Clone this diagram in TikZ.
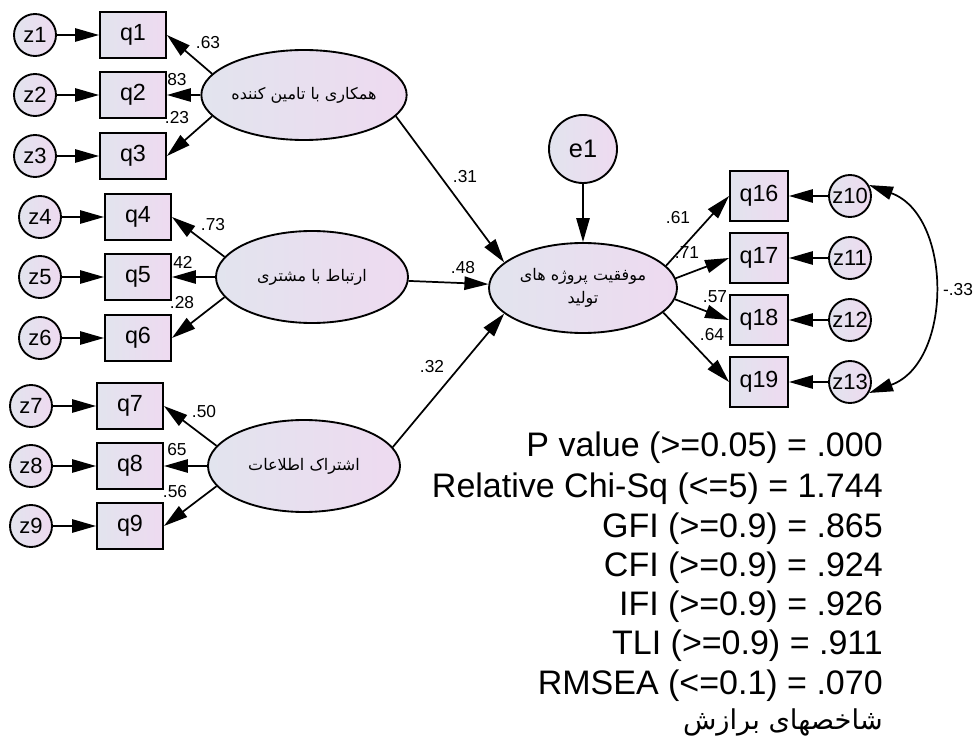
\documentclass[tikz,border=0pt]{standalone}
\usepackage{fontspec}
\setmainfont{Liberation Sans}
\newfontfamily\arabicfont[Script=Arabic]{DejaVu Sans}
\TeXXeTstate=1
\usetikzlibrary{arrows.meta,shapes.geometric}
\definecolor{nodeleft}{RGB}{226,228,238}
\definecolor{noderight}{RGB}{238,218,240}
\begin{document}
\begin{tikzpicture}[x=0.75pt,y=-0.75pt,
    obs/.style={draw,line width=1.4pt,minimum width=49.5pt,minimum height=34pt,inner sep=0pt,
      left color=nodeleft,right color=noderight,font=\fontsize{17.5}{20}\selectfont},
    obsr/.style={obs,minimum width=43.5pt,minimum height=37.5pt},
    err/.style={circle,draw,line width=1.4pt,minimum size=31.5pt,inner sep=0pt,
      left color=nodeleft,right color=noderight,font=\fontsize{16.5}{19}\selectfont},
    lat/.style={ellipse,draw,line width=1.4pt,minimum width=141pt,minimum height=67.5pt,inner sep=0pt,
      left color=nodeleft,right color=noderight,align=center,font=\arabicfont\fontsize{12}{17}\selectfont},
    arr/.style={-{Triangle[length=18pt,width=10pt]},line width=1.3pt},
    dblarr/.style={{Triangle[length=18pt,width=10pt]}-{Triangle[length=18pt,width=10pt]},line width=1.3pt},
    coef/.style={inner sep=0pt,font=\fontsize{13}{15}\selectfont},
    fitline/.style={anchor=base east,inner sep=0pt,font=\fontsize{25.5}{29}\selectfont}]
  \fill[white] (0,0) rectangle (975,738);
  \useasboundingbox (0,0) rectangle (975,738);
  % first construct
  \node[err] (z1) at (35,35) {z1};
  \node[err] (z2) at (35,95) {z2};
  \node[err] (z3) at (35,156) {z3};
  \node[obs] (q1) at (133,35) {q1};
  \node[obs] (q2) at (133,95) {q2};
  \node[obs] (q3) at (133,156) {q3};
  \node[lat] (F1) at (304,95) {\beginR همکاری با تامین کننده\endR};
  % second construct
  \node[err] (z4) at (40,217) {z4};
  \node[err] (z5) at (40,277) {z5};
  \node[err] (z6) at (40,338) {z6};
  \node[obs] (q4) at (138,217) {q4};
  \node[obs] (q5) at (138,277) {q5};
  \node[obs] (q6) at (138,338) {q6};
  \node[lat,minimum width=144pt,minimum height=69pt] (F2) at (312,277) {\beginR ارتباط با مشتری\endR};
  % third construct
  \node[err] (z7) at (31,406) {z7};
  \node[err] (z8) at (31,466) {z8};
  \node[err] (z9) at (31,526) {z9};
  \node[obs] (q7) at (130,406) {q7};
  \node[obs] (q8) at (130,466) {q8};
  \node[obs] (q9) at (130,526) {q9};
  \node[lat,minimum width=144pt,minimum height=69pt] (F3) at (304,466) {\beginR اشتراک اطلاعات\endR};
  % outcome
  \node[lat] (F4) at (583,288) {\beginR موفقیت پروژه های\endR\\\beginR تولید\endR};
  \node[err,minimum size=51pt,font=\fontsize{19}{22}\selectfont] (e1) at (583,149) {e1};
  \node[obsr] (q16) at (759,196) {q16};
  \node[obsr] (q17) at (759,258) {q17};
  \node[obsr] (q18) at (759,320) {q18};
  \node[obsr] (q19) at (759,382) {q19};
  \node[err] (z10) at (850,196) {z10};
  \node[err] (z11) at (850,258) {z11};
  \node[err] (z12) at (850,320) {z12};
  \node[err] (z13) at (850,382) {z13};
  % paths
  \draw[arr] (z1) -- (q1);
  \draw[arr] (z2) -- (q2);
  \draw[arr] (z3) -- (q3);
  \draw[arr] (z4) -- (q4);
  \draw[arr] (z5) -- (q5);
  \draw[arr] (z6) -- (q6);
  \draw[arr] (z7) -- (q7);
  \draw[arr] (z8) -- (q8);
  \draw[arr] (z9) -- (q9);
  \draw[arr] (F1.167) -- (q1.east);
  \draw[arr] (F1) -- (q2);
  \draw[arr] (F1.193) -- (q3.east);
  \draw[arr] (F2.167) -- (q4.east);
  \draw[arr] (F2) -- (q5);
  \draw[arr] (F2.193) -- (q6.east);
  \draw[arr] (F3.167) -- (q7.east);
  \draw[arr] (F3) -- (q8);
  \draw[arr] (F3.193) -- (q9.east);
  \draw[arr] (F1.-13) -- (F4.162);
  \draw[arr] (F2) -- (F4);
  \draw[arr] (F3.12) -- (F4.198);
  \draw[arr] (e1) -- (F4);
  \draw[arr] (F4.15) -- (q16.west);
  \draw[arr] (F4.6) -- (q17.west);
  \draw[arr] (F4.-7) -- (q18.west);
  \draw[arr] (F4.-17) -- (q19.west);
  \draw[arr] (z10) -- (q16);
  \draw[arr] (z11) -- (q17);
  \draw[arr] (z12) -- (q18);
  \draw[arr] (z13) -- (q19);
  \draw[dblarr] (z10.30) to[out=-20,in=20,looseness=1.1] (z13.-30);
  % estimates
  \node[coef] at (208,43) {.63};
  \node[coef] at (177,80) {83};
  \node[coef] at (177,118) {.23};
  \node[coef] at (213,225) {.73};
  \node[coef] at (183,262) {42};
  \node[coef] at (182,303) {.28};
  \node[coef] at (204,412) {.50};
  \node[coef] at (177,450) {65};
  \node[coef] at (175,492) {.56};
  \node[coef] at (465,177) {.31};
  \node[coef] at (463,268) {.48};
  \node[coef] at (432,367) {.32};
  \node[coef] at (678,218) {.61};
  \node[coef] at (687,253) {.71};
  \node[coef] at (715,297) {.57};
  \node[coef] at (712,335) {.64};
  \node[coef] at (958,290) {-.33};
  % fit indices
  \node[fitline] (pval) at (883,456) {P value (>=0.05) = .000};
  \node[fitline] (chisq) at (883,497) {Relative Chi-Sq (<=5) = 1.744};
  \node[fitline] (gfi) at (883,537) {GFI (>=0.9) = .865};
  \node[fitline] (cfi) at (883,576) {CFI (>=0.9) = .924};
  \node[fitline] (ifi) at (883,615) {IFI (>=0.9) = .926};
  \node[fitline] (tli) at (883,654) {TLI (>=0.9) = .911};
  \node[fitline] (rmsea) at (883,694) {RMSEA (<=0.1) = .070};
  \node[fitline,font=\arabicfont\fontsize{20.5}{24}\selectfont] (fittitle) at (883,729) {\beginR شاخصهای برازش\endR};
\end{tikzpicture}
\end{document}
